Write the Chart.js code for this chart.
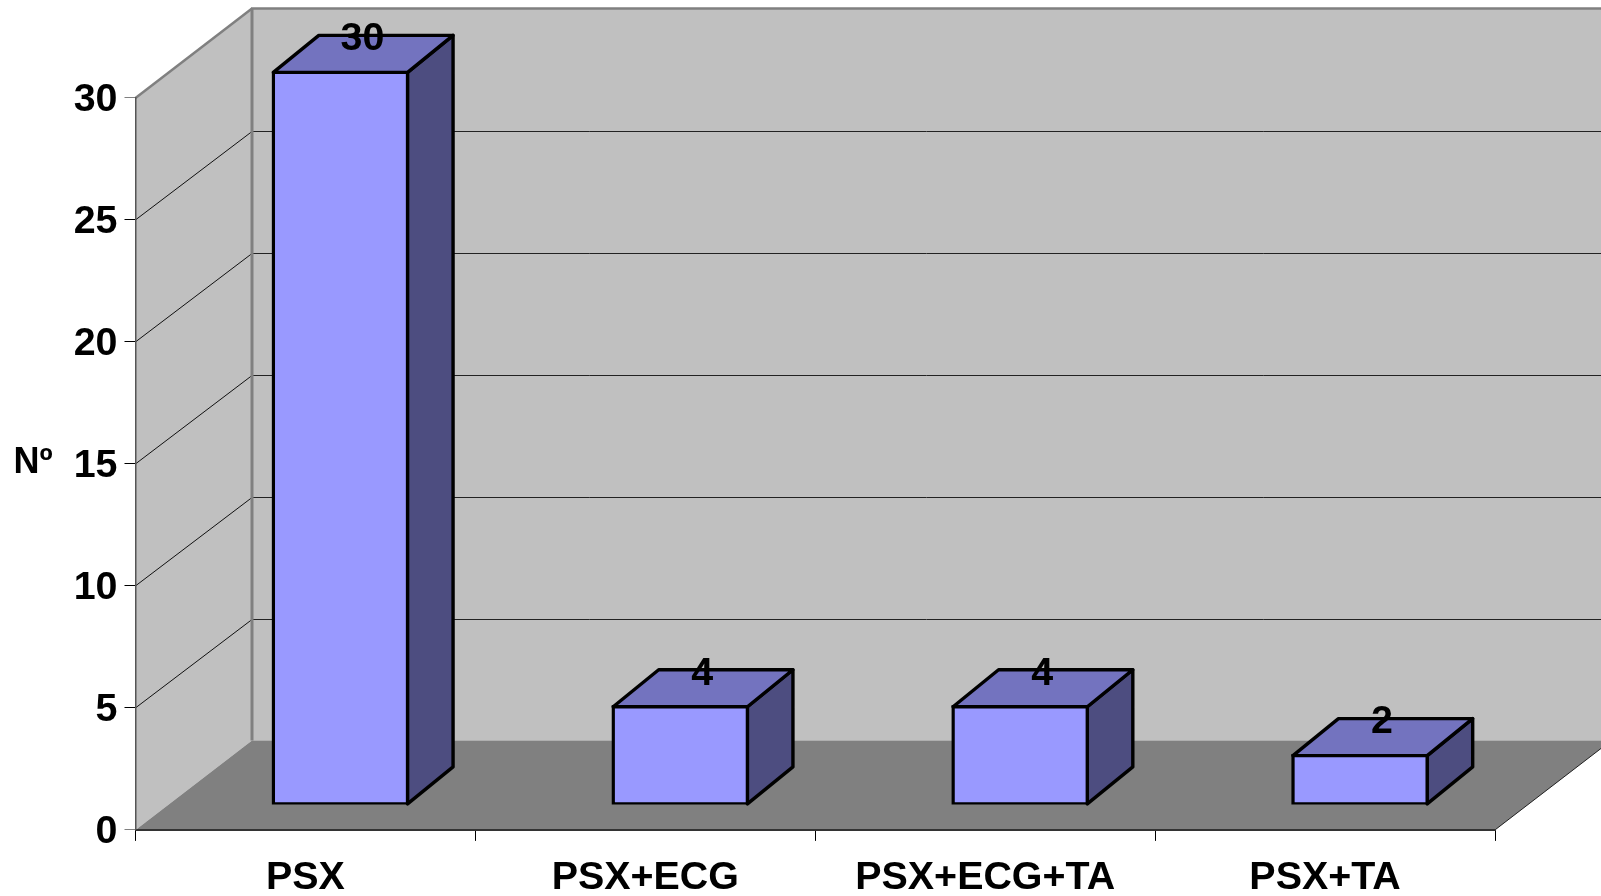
<!DOCTYPE html>
<html>
<head>
<meta charset="utf-8">
<title>Nº</title>
<script src="https://cdn.jsdelivr.net/npm/chart.js@4/dist/chart.umd.min.js"></script>
<style>
  html, body { margin:0; padding:0; background:#fff; overflow:hidden; }
  canvas { display:block; }
</style>
</head>
<body>
<canvas id="chart" width="1601" height="896"></canvas>
<script>
// Data
const CATEGORIES = ["PSX", "PSX+ECG", "PSX+ECG+TA", "PSX+TA"];
const VALUES = [30, 4, 4, 2];
const Y_MAX = 30;
const Y_STEP = 5;
const Y_TITLE = "Nº";

// Fake 3D look
const WALL_DX = 116.5, WALL_DY = 89.5;   // depth of the whole box
const BAR_SHIFT_X = 35, BAR_SHIFT_Y = 25.5; // bars stand inside the box
const BAR_DX = 45.5, BAR_DY = 37;         // depth of one bar
const FONT = "'Liberation Sans', Arial, sans-serif";

function poly(ctx, pts, fill, stroke, lw) {
  ctx.beginPath();
  pts.forEach((p, i) => i ? ctx.lineTo(p[0], p[1]) : ctx.moveTo(p[0], p[1]));
  ctx.closePath();
  if (fill) { ctx.fillStyle = fill; ctx.fill(); }
  if (stroke) { ctx.strokeStyle = stroke; ctx.lineWidth = lw; ctx.lineJoin = "round"; ctx.stroke(); }
}

function line(ctx, x1, y1, x2, y2, color, lw) {
  ctx.beginPath();
  ctx.moveTo(x1, y1);
  ctx.lineTo(x2, y2);
  ctx.strokeStyle = color;
  ctx.lineWidth = lw;
  ctx.stroke();
}

// walls, floor, gridlines - has to go under the axes
const box3d = {
  id: "box3d",
  beforeDraw(chart) {
    const { ctx, chartArea: a, scales } = chart;
    const bx = a.left + WALL_DX, dy = WALL_DY;
    // y tick labels sit a bit lower than chart.js centres them
    scales.y.getLabelItems().forEach(item => { item.options.translation[1] += 2; });
    ctx.save();
    poly(ctx, [[a.left, a.bottom], [a.left, a.top], [bx, a.top - dy], [bx, a.bottom - dy]], "#c0c0c0");
    poly(ctx, [[bx, a.top - dy], [a.right + WALL_DX, a.top - dy], [a.right + WALL_DX, a.bottom - dy], [bx, a.bottom - dy]], "#c0c0c0");
    poly(ctx, [[a.left, a.bottom], [a.right, a.bottom], [a.right + WALL_DX, a.bottom - dy], [bx, a.bottom - dy]], "#808080");

    scales.y.ticks.forEach(t => {
      if (t.value === 0 || t.value === Y_MAX) return;
      const y = scales.y.getPixelForValue(t.value);
      const by = Math.round(y - dy + 1) + 0.5;
      line(ctx, a.left, y, bx, by, "#111", 1);
      line(ctx, bx, by, chart.width, by, "#222", 1);
    });

    line(ctx, a.left, a.top, bx, a.top - dy, "#808080", 2.5);
    line(ctx, bx - 1, a.top - dy, chart.width, a.top - dy, "#808080", 2.5);
    line(ctx, bx, a.top - dy, bx, a.bottom - dy, "#808080", 3);
    line(ctx, a.right, a.bottom, a.right + WALL_DX, a.bottom - dy, "#222", 1);
    ctx.restore();
  },
  // bars get moved back into the box, side and top faces first
  beforeDatasetDraw(chart, args) {
    const { ctx } = chart;
    ctx.save();
    ctx.translate(BAR_SHIFT_X, -BAR_SHIFT_Y);
    args.meta.data.forEach(bar => {
      const { x, y, base, width } = bar.getProps(["x", "y", "base", "width"], true);
      const l = x - width / 2, r = x + width / 2;
      poly(ctx, [[r, y], [r + BAR_DX, y - BAR_DY], [r + BAR_DX, base - BAR_DY], [r, base]], "#4d4d80", "#000", 3.4);
      poly(ctx, [[l, y], [l + BAR_DX, y - BAR_DY], [r + BAR_DX, y - BAR_DY], [r, y]], "#7373bf", "#000", 3.4);
    });
  },
  afterDatasetDraw(chart, args) {
    const { ctx } = chart;
    ctx.restore();
    ctx.save();
    ctx.font = "bold 39.4px " + FONT;
    ctx.fillStyle = "#000";
    ctx.textAlign = "center";
    ctx.textBaseline = "middle";
    args.meta.data.forEach((bar, i) => {
      const { x, y } = bar.getProps(["x", "y"], true);
      ctx.fillText(String(VALUES[i]), x + BAR_SHIFT_X + 22, y - BAR_SHIFT_Y - 33);
    });
    ctx.restore();
  },
  afterDraw(chart) {
    const { ctx } = chart;
    ctx.save();
    ctx.font = "bold 36px " + FONT;
    ctx.fillStyle = "#000";
    ctx.textAlign = "center";
    ctx.textBaseline = "middle";
    ctx.fillText(Y_TITLE, 33, 463);
    ctx.restore();
  }
};

new Chart(document.getElementById("chart"), {
  type: "bar",
  data: {
    labels: CATEGORIES,
    datasets: [{
      data: VALUES,
      backgroundColor: "#9999ff",
      borderColor: "#000",
      borderWidth: 3.4,
      borderSkipped: false,
      inflateAmount: 1.7,
      categoryPercentage: 1,
      barPercentage: 0.395
    }]
  },
  options: {
    responsive: false,
    animation: false,
    layout: { padding: { left: 0, right: 106, top: 97.9, bottom: 0 } },
    plugins: { legend: { display: false }, tooltip: { enabled: false } },
    scales: {
      x: {
        afterFit: s => { s.height = 66.1; },
        border: { color: "#333", width: 2 },
        grid: { offset: true, drawOnChartArea: false, tickLength: 11, tickColor: "#000", tickWidth: 1 },
        ticks: { color: "#000", padding: 14, maxRotation: 0, autoSkip: false, font: { family: FONT, size: 39.4, weight: "bold" } }
      },
      y: {
        min: 0,
        max: Y_MAX,
        afterFit: s => { s.width = 135.5; },
        border: { color: "#555", width: 1.5 },
        grid: {
          drawOnChartArea: false,
          tickLength: 11,
          tickWidth: 1,
          tickColor: c => (c.tick.value === 0 || c.tick.value === Y_MAX) ? "#808080" : "#000"
        },
        ticks: { stepSize: Y_STEP, color: "#000", padding: 7, font: { family: FONT, size: 39.4, weight: "bold" } }
      }
    }
  },
  plugins: [box3d]
});
</script>
</body>
</html>
